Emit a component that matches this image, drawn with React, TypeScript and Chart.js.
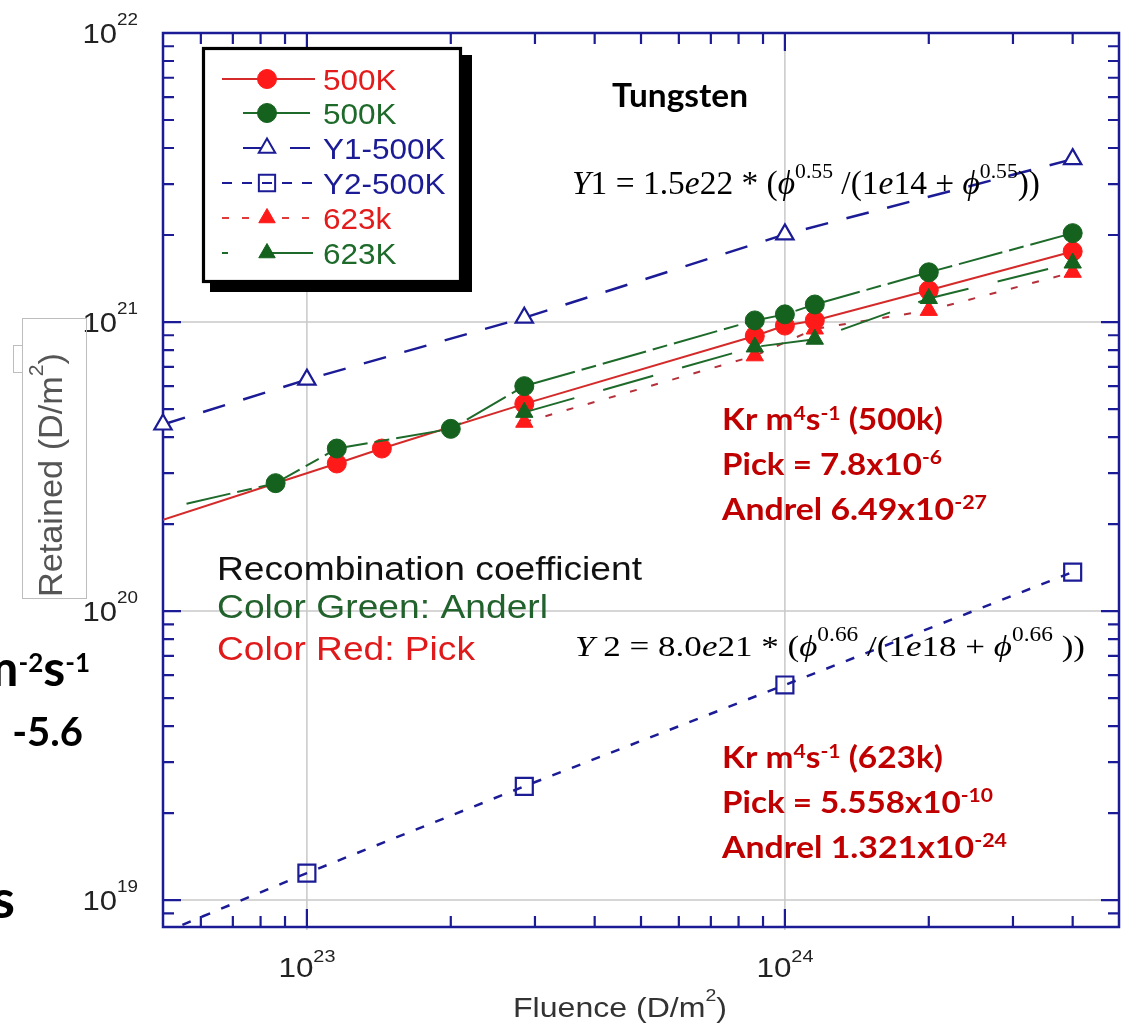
import { useEffect, useRef } from 'react';
import { Chart, registerables } from 'chart.js';
Chart.register(...registerables);

// ---------------- data ----------------
const red500X = [5e22, 1.155e23, 1.435e23, 2.85e23, 8.65e23, 1e24, 1.155e24, 2e24, 4e24];
const red500Y = [2.07e20, 3.24e20, 3.65e20, 5.21e20, 8.95e20, 9.72e20, 1.013e21, 1.288e21, 1.755e21];
const green500X = [5.6e22, 8.6e22, 1.155e23, 2e23, 2.85e23, 8.65e23, 1e24, 1.155e24, 2e24, 4e24];
const green500Y = [2.35e20, 2.77e20, 3.65e20, 4.27e20, 6.0e20, 1.013e21, 1.063e21, 1.15e21, 1.486e21, 2.03e21];
const y1X = [5e22, 1e23, 2.85e23, 1e24, 4e24];
const y1Y = [4.42e20, 6.32e20, 1.035e21, 2.01e21, 3.66e21];
const y2X = [5e22, 1e23, 2.85e23, 1e24, 4e24];
const y2Y = [7.7e18, 1.24e19, 2.475e19, 5.55e19, 1.364e20];
const red623X = [2.85e23, 8.65e23, 1.155e24, 2e24, 4e24];
const red623Y = [4.5e20, 7.64e20, 9.46e20, 1.097e21, 1.486e21];
const green623X = [2.85e23, 8.65e23, 1.155e24, 2e24, 4e24];
const green623Y = [4.87e20, 8.2e20, 8.72e20, 1.206e21, 1.6e21];

const legendLabels = ['500K', '500K', 'Y1-500K', 'Y2-500K', '623k', '623K'];
const xTickValues = [1e23, 1e24];
const xTickExponents = ['23', '24'];
const yTickValues = [1e22, 1e21, 1e20, 1e19];
const yTickExponents = ['22', '21', '20', '19'];
const X_MIN = 5e22, X_MAX = 5e24, Y_MIN = 8.07e18, Y_MAX = 1e22;

// ---------------- styles ----------------
const W = 1121, H = 1023;
const NAVY = '#1b1b96';
const RED = '#ff1a1a';
const RED_LINE = '#d42a2a';
const RED_DASH = '#b5303a';
const GREEN = '#15621f';
const GREEN_LINE = '#1d6a2a';
const KR = '#c00000';
const LS = '"Liberation Sans", Arial, sans-serif';
const SERIF = '"Liberation Serif", "Times New Roman", serif';
const LATO = 'Lato, "Open Sans", sans-serif';

type Run = { t: string; f: string; dy?: number; c?: string };

function drawRuns(ctx: CanvasRenderingContext2D, runs: Run[], x: number, y: number,
  opts: { color: string; width?: number; align?: 'left' | 'right' | 'center'; sx?: number }) {
  ctx.save();
  let total = 0;
  const ws = runs.map(r => { ctx.font = r.f; const w = ctx.measureText(r.t).width; total += w; return w; });
  let sx = opts.sx ?? 1;
  if (opts.width) sx = opts.width / total;
  const Wd = total * sx;
  let x0 = x;
  if (opts.align === 'right') x0 = x - Wd; else if (opts.align === 'center') x0 = x - Wd / 2;
  ctx.translate(x0, y);
  ctx.scale(sx, 1);
  ctx.textAlign = 'left';
  ctx.textBaseline = 'alphabetic';
  let cx = 0;
  runs.forEach((r, i) => {
    ctx.font = r.f;
    ctx.fillStyle = r.c ?? opts.color;
    ctx.fillText(r.t, cx, r.dy ?? 0);
    cx += ws[i];
  });
  ctx.restore();
}

function drawMarker(ctx: CanvasRenderingContext2D, style: string, x: number, y: number, r: number,
  fill: string | null, stroke: string | null, lw: number) {
  ctx.save();
  ctx.beginPath();
  if (style === 'circle') ctx.arc(x, y, r, 0, Math.PI * 2);
  else if (style === 'triangle') {
    ctx.moveTo(x, y - r);
    ctx.lineTo(x + r * Math.sin(2 * Math.PI / 3), y - r * Math.cos(2 * Math.PI / 3));
    ctx.lineTo(x + r * Math.sin(4 * Math.PI / 3), y - r * Math.cos(4 * Math.PI / 3));
    ctx.closePath();
  } else {
    const s = r * Math.SQRT1_2;
    ctx.rect(x - s, y - s, 2 * s, 2 * s);
  }
  if (fill) { ctx.fillStyle = fill; ctx.fill(); }
  if (stroke) { ctx.strokeStyle = stroke; ctx.lineWidth = lw; ctx.setLineDash([]); ctx.stroke(); }
  ctx.restore();
}

const mk = (xs: number[], ys: number[]) => xs.map((x, i) => ({ x, y: ys[i] }));

const framePlugin = {
  id: 'frame',
  beforeDraw(chart: any) {
    const ctx = chart.ctx;
    ctx.save();
    ctx.fillStyle = '#fff';
    ctx.fillRect(0, 0, chart.width, chart.height);
    ctx.restore();
  },
  beforeDatasetsDraw(chart: any) {
    const { ctx, chartArea: a, scales } = chart;
    const xs = scales.x, ys = scales.y;
    ctx.save();
    // grid lines at decades
    ctx.strokeStyle = '#c8c8c8';
    ctx.lineWidth = 1.5;
    xTickValues.forEach(v => {
      const px = xs.getPixelForValue(v);
      ctx.beginPath(); ctx.moveTo(px, a.top); ctx.lineTo(px, a.bottom + 3); ctx.stroke();
    });
    yTickValues.forEach(v => {
      const py = ys.getPixelForValue(v);
      if (py <= a.top + 2) return;
      ctx.beginPath(); ctx.moveTo(a.left, py); ctx.lineTo(a.right, py); ctx.stroke();
    });
    // frame
    ctx.strokeStyle = NAVY;
    ctx.lineWidth = 2.5;
    ctx.strokeRect(a.left, a.top, a.right - a.left, a.bottom - a.top);
    // inward ticks
    ctx.lineWidth = 2.2;
    for (let e = 22; e <= 24; e++) {
      for (let k = 1; k <= 9; k++) {
        const v = k * Math.pow(10, e);
        if (v <= X_MIN * 1.001 || v >= X_MAX * 0.999) continue;
        const px = xs.getPixelForValue(v);
        const len = k === 1 ? 18 : 11;
        ctx.beginPath();
        ctx.moveTo(px, a.bottom); ctx.lineTo(px, a.bottom - len);
        ctx.moveTo(px, a.top); ctx.lineTo(px, a.top + len);
        ctx.stroke();
      }
    }
    for (let e = 18; e <= 21; e++) {
      for (let k = 1; k <= 9; k++) {
        const v = k * Math.pow(10, e);
        if (v <= Y_MIN * 1.001 || v >= Y_MAX * 0.999) continue;
        const py = ys.getPixelForValue(v);
        const len = k === 1 ? 18 : 11;
        ctx.beginPath();
        ctx.moveTo(a.left, py); ctx.lineTo(a.left + len, py);
        ctx.moveTo(a.right, py); ctx.lineTo(a.right - len, py);
        ctx.stroke();
      }
    }
    ctx.restore();
  },
  afterDatasetsDraw(chart: any) {
    const { ctx, scales } = chart;
    const xs = scales.x, ys = scales.y;
    ctx.save();

    // ---- tick labels ----
    yTickValues.forEach((v, i) => {
      const py = ys.getPixelForValue(v);
      drawRuns(ctx, [
        { t: '10', f: `28px ${LS}` },
        { t: yTickExponents[i], f: `17px ${LS}`, dy: -18 },
      ], 82.5, py + 10, { color: '#222', width: 55.5 });
    });
    xTickValues.forEach((v, i) => {
      const px = xs.getPixelForValue(v);
      drawRuns(ctx, [
        { t: '10', f: `27px ${LS}` },
        { t: xTickExponents[i], f: `17px ${LS}`, dy: -15 },
      ], px, 977, { color: '#222', width: 57, align: 'center' });
    });

    // ---- axis titles ----
    drawRuns(ctx, [
      { t: 'Fluence (D/m', f: `28px ${LS}` },
      { t: '2', f: `17px ${LS}`, dy: -16 },
      { t: ')', f: `28px ${LS}` },
    ], 513, 1017, { color: '#333', width: 214 });

    ctx.save();
    ctx.strokeStyle = '#bdbdbd';
    ctx.lineWidth = 1;
    ctx.strokeRect(22.5, 318.5, 64, 280);
    ctx.strokeRect(13.5, 345.5, 9, 27);
    ctx.translate(62, 597);
    ctx.rotate(-Math.PI / 2);
    drawRuns(ctx, [
      { t: 'Retained (D/m', f: `34px ${LS}` },
      { t: '2', f: `21px ${LS}`, dy: -19 },
      { t: ')', f: `34px ${LS}` },
    ], 0, 0, { color: '#555', width: 244 });
    ctx.restore();

    // ---- cut-off slide text at left ----
    drawRuns(ctx, [
      { t: 'm', f: `bold 50px ${LATO}` },
      { t: '-2', f: `bold 26px ${LATO}`, dy: -14 },
      { t: 's', f: `bold 50px ${LATO}` },
      { t: '-1', f: `bold 26px ${LATO}`, dy: -14 },
    ], 90, 686, { color: '#000', align: 'right' });
    drawRuns(ctx, [{ t: '-5.6', f: `bold 40px ${LATO}` }], 83, 746, { color: '#000', align: 'right' });
    drawRuns(ctx, [{ t: 's', f: `bold 54px ${LATO}` }], 15, 918, { color: '#000', align: 'right' });

    // ---- annotations ----
    drawRuns(ctx, [{ t: 'Tungsten', f: `bold 33px ${LATO}` }], 612, 107, { color: '#000', width: 136 });

    const TI = `italic 34px ${SERIF}`, TR = `34px ${SERIF}`, TS = `22px ${SERIF}`;
    drawRuns(ctx, [
      { t: 'Y', f: TI }, { t: '1 = 1.5', f: TR }, { t: 'e', f: TI }, { t: '22 * (', f: TR },
      { t: 'ϕ', f: TI }, { t: '0.55', f: TS, dy: -16 }, { t: ' /(1', f: TR }, { t: 'e', f: TI },
      { t: '14 + ', f: TR }, { t: 'ϕ', f: TI }, { t: '0.55', f: TS, dy: -16 }, { t: '))', f: TR },
    ], 572, 194, { color: '#000', width: 468 });

    const UI = `italic 30px ${SERIF}`, UR = `30px ${SERIF}`, US = `20px ${SERIF}`;
    drawRuns(ctx, [
      { t: 'Y', f: UI }, { t: ' 2 = 8.0', f: UR }, { t: 'e', f: UI }, { t: '21 * (', f: UR },
      { t: 'ϕ', f: UI }, { t: '0.66', f: US, dy: -15 }, { t: ' /(1', f: UR }, { t: 'e', f: UI },
      { t: '18 + ', f: UR }, { t: 'ϕ', f: UI }, { t: '0.66', f: US, dy: -15 }, { t: ' ))', f: UR },
    ], 575, 656, { color: '#000', width: 510 });

    drawRuns(ctx, [{ t: 'Recombination coefficient', f: `33px ${LS}` }], 217, 580, { color: '#111', width: 425 });
    drawRuns(ctx, [{ t: 'Color Green: Anderl', f: `33px ${LS}` }], 217, 618, { color: '#22622c', width: 331 });
    drawRuns(ctx, [{ t: 'Color Red: Pick', f: `33px ${LS}` }], 217, 660, { color: '#e01a1a', width: 258 });

    const KB = `bold 30px ${LATO}`, KS = `bold 19px ${LATO}`;
    const krBlock = (temp: string, pick: string, pickExp: string, and: string, andExp: string,
      y0: number, w: number[]) => {
      drawRuns(ctx, [
        { t: 'Kr m', f: KB }, { t: '4', f: KS, dy: -10 }, { t: 's', f: KB }, { t: '-1', f: KS, dy: -10 },
        { t: ` (${temp})`, f: KB },
      ], 722, y0, { color: KR, width: w[0] });
      drawRuns(ctx, [{ t: `Pick = ${pick}x10`, f: KB }, { t: pickExp, f: KS, dy: -11 }], 722, y0 + 45, { color: KR, width: w[1] });
      drawRuns(ctx, [{ t: `Andrel ${and}x10`, f: KB }, { t: andExp, f: KS, dy: -11 }], 722, y0 + 90, { color: KR, width: w[2] });
    };
    krBlock('500k', '7.8', '-6', '6.49', '-27', 430, [221, 220, 265]);
    krBlock('623k', '5.558', '-10', '1.321', '-24', 768, [221, 271, 285]);

    // ---- legend ----
    ctx.fillStyle = '#000';
    ctx.fillRect(210, 55, 262, 237);
    ctx.fillStyle = '#fff';
    ctx.fillRect(203.5, 48.5, 257, 233);
    ctx.strokeStyle = '#000';
    ctx.lineWidth = 3.2;
    ctx.strokeRect(203.5, 48.5, 257, 233);

    const rowsY = [79, 113, 148, 183, 218, 253];
    const legendStyle = [
      { color: RED_LINE, text: '#e41b1b', segs: [[222, 315]], dash: [] as number[], m: 'circle', fill: RED, stroke: RED, lw: 1 },
      { color: GREEN_LINE, text: '#1d6a2a', segs: [[243, 310]], dash: [], m: 'circle', fill: GREEN, stroke: GREEN, lw: 1 },
      { color: NAVY, text: NAVY, segs: [[243, 262], [290, 310]], dash: [], m: 'triangle', fill: '#fff', stroke: NAVY, lw: 2 },
      { color: NAVY, text: NAVY, segs: [[222, 315]], dash: [10, 10], m: 'rect', fill: null, stroke: NAVY, lw: 2 },
      { color: '#e03a3a', text: '#e41b1b', segs: [[222, 315]], dash: [7, 13], m: 'triangle', fill: RED, stroke: RED, lw: 1 },
      { color: GREEN_LINE, text: '#1d6a2a', segs: [[222, 228], [262, 313]], dash: [], m: 'triangle', fill: GREEN, stroke: GREEN, lw: 1 },
    ];
    legendStyle.forEach((s, i) => {
      const y = rowsY[i];
      ctx.save();
      ctx.strokeStyle = s.color;
      ctx.lineWidth = 2;
      ctx.setLineDash(s.dash);
      s.segs.forEach(([a, b]) => { ctx.beginPath(); ctx.moveTo(a, y); ctx.lineTo(b, y); ctx.stroke(); });
      ctx.restore();
      drawMarker(ctx, s.m, 267, y, s.m === 'rect' ? 11.5 : 9.5, s.fill, s.stroke, s.lw);
      drawRuns(ctx, [{ t: legendLabels[i], f: `30px ${LS}` }], 323, y + 11, { color: s.text, sx: 1.05 });
    });

    ctx.restore();
  },
};

export default function App() {
  const ref = useRef<HTMLCanvasElement | null>(null);
  useEffect(() => {
    if (!ref.current) return;
    const chart = new Chart(ref.current, {
      type: 'line',
      data: {
        datasets: [
          {
            label: legendLabels[0], data: mk(red500X, red500Y), borderColor: RED_LINE, borderWidth: 2,
            pointStyle: 'circle', pointRadius: red500X.map((_, i) => (i === 0 ? 0 : 9.5)),
            pointBackgroundColor: RED, pointBorderColor: RED, pointBorderWidth: 1, order: 3,
          },
          {
            label: legendLabels[1], data: mk(green500X, green500Y), borderColor: GREEN_LINE, borderWidth: 2,
            borderDash: [45, 7, 15, 7],
            pointStyle: 'circle', pointRadius: green500X.map((_, i) => (i === 0 ? 0 : 9.5)),
            pointBackgroundColor: GREEN, pointBorderColor: GREEN, pointBorderWidth: 1, order: 2,
          },
          {
            label: legendLabels[2], data: mk(y1X, y1Y), borderColor: NAVY, borderWidth: 2.5,
            borderDash: [23, 19], clip: false as any,
            pointStyle: 'triangle', pointRadius: 10, pointBackgroundColor: '#fff',
            pointBorderColor: NAVY, pointBorderWidth: 2.2, order: 6,
          },
          {
            label: legendLabels[3], data: mk(y2X, y2Y), borderColor: NAVY, borderWidth: 2.5,
            borderDash: [9, 12],
            pointStyle: 'rect', pointRadius: y2X.map((_, i) => (i === 0 ? 0 : 12)),
            pointBackgroundColor: 'rgba(0,0,0,0)', pointBorderColor: NAVY, pointBorderWidth: 2.2, order: 5,
          },
          {
            label: legendLabels[4], data: mk(red623X, red623Y), borderColor: RED_DASH, borderWidth: 2,
            borderDash: [7, 15],
            pointStyle: 'triangle', pointRadius: 10, pointBackgroundColor: RED,
            pointBorderColor: RED, pointBorderWidth: 1, order: 4,
          },
          {
            label: legendLabels[5], data: mk(green623X, green623Y), borderColor: GREEN_LINE, borderWidth: 2,
            borderDash: [52, 30],
            pointStyle: 'triangle', pointRadius: 10, pointBackgroundColor: GREEN,
            pointBorderColor: GREEN, pointBorderWidth: 1, order: 1,
          },
        ],
      },
      options: {
        responsive: false,
        maintainAspectRatio: false,
        animation: false,
        events: [],
        layout: { autoPadding: false, padding: { left: 163, top: 33, right: 2, bottom: 96 } },
        elements: { line: { tension: 0, fill: false } },
        scales: {
          x: { type: 'logarithmic', min: X_MIN, max: X_MAX, display: false },
          y: { type: 'logarithmic', min: Y_MIN, max: Y_MAX, display: false },
        },
        plugins: { legend: { display: false }, tooltip: { enabled: false } },
      },
      plugins: [framePlugin],
    });
    return () => chart.destroy();
  }, []);
  return (
    <div style={{ position: 'absolute', left: 0, top: 0, width: W, height: H }}>
      <canvas ref={ref} width={W} height={H} style={{ width: W, height: H, display: 'block' }} />
    </div>
  );
}
